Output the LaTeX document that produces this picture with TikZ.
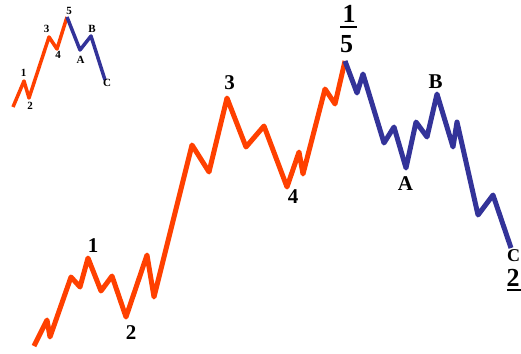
\documentclass[tikz,border=0pt]{standalone}
\usepackage{fontspec}
\setmainfont{Liberation Serif}
\definecolor{waveup}{RGB}{255,64,0}
\definecolor{wavedown}{RGB}{51,51,153}

\begin{document}
\begin{tikzpicture}[
        x=1pt, y=-1pt,
        impulse/.style={waveup, line width=5pt, line join=round},
        correct/.style={wavedown, line width=5pt, line join=round},
        mini/.style={line width=3.5pt},
        lbl/.style={font=\fontsize{21}{21}\selectfont\bfseries, inner sep=0pt},
        biglbl/.style={font=\fontsize{26}{26}\selectfont\bfseries, inner sep=0pt},
        minilbl/.style={font=\fontsize{11}{11}\selectfont\bfseries, inner sep=0pt}
    ]
        \useasboundingbox (0,0) rectangle (521,353);

        % Wave turning points
        \coordinate (w0) at (34,346);
        \coordinate (w1) at (88,258);
        \coordinate (w2) at (126,317);
        \coordinate (w3) at (227,98);
        \coordinate (w4) at (287,187);
        \coordinate (w5) at (345,61);
        \coordinate (wA) at (406,168);
        \coordinate (wB) at (437,94);
        \coordinate (wC) at (511,248);

        % Impulse waves 1-5
        \draw[impulse] (w0) -- (47,320) -- (50,337) -- (71,277) -- (80,287) -- (w1)
            -- (101,291) -- (112,276) -- (w2)
            -- (147,255) -- (154,297) -- (192,145) -- (209,172) -- (w3)
            -- (246,147) -- (264,126) -- (w4)
            -- (299,152) -- (303,174) -- (325,89) -- (335,104) -- (w5);

        % Correction A-B-C
        \draw[correct] (w5) -- (357,93) -- (363,74) -- (384,143) -- (394,127) -- (wA)
            -- (416,122) -- (427,137) -- (wB)
            -- (453,147) -- (457,122) -- (478,215) -- (493,195) -- (wC);

        % Labels
        \node[lbl] (l1) at (93,245.5) {1};
        \node[lbl] (l2) at (131,333) {2};
        \node[lbl] (l3) at (229.5,82.5) {3};
        \node[lbl] (l4) at (293,196.5) {4};
        \node[biglbl] (top1) at (349,13.5) {1};
        \draw[line width=1.5pt] (340,27) -- (357,27);
        \node[biglbl] (l5) at (346.5,44) {5};
        \node[lbl] (lA) at (405.5,184) {A};
        \node[lbl] (lB) at (435.5,82) {B};
        \node[lbl, font=\fontsize{18}{18}\selectfont\bfseries] (lC) at (513.5,256) {C};
        \node[biglbl] (bot2) at (513,277.5) {2};
        \draw[line width=1.5pt] (507,290) -- (521,290);

        % Small overview
        \coordinate (m0) at (13,107);
        \coordinate (m1) at (24,81);
        \coordinate (m2) at (29,98);
        \coordinate (m3) at (49,37);
        \coordinate (m4) at (57,49);
        \coordinate (m5) at (67,17);
        \coordinate (mA) at (80,50);
        \coordinate (mB) at (91,36);
        \coordinate (mC) at (105,80);
        \draw[impulse, mini] (m0) -- (m1) -- (m2) -- (m3) -- (m4) -- (m5);
        \draw[correct, mini] (m5) -- (mA) -- (mB) -- (mC);
        \node[minilbl] at (23.5,72.5) {1};
        \node[minilbl] at (30,106) {2};
        \node[minilbl] at (46.5,28.5) {3};
        \node[minilbl] at (58,54.5) {4};
        \node[minilbl] at (69,11) {5};
        \node[minilbl] at (80.5,59.5) {A};
        \node[minilbl] at (92,29) {B};
        \node[minilbl] at (107,83) {C};
    \end{tikzpicture}
\end{document}
